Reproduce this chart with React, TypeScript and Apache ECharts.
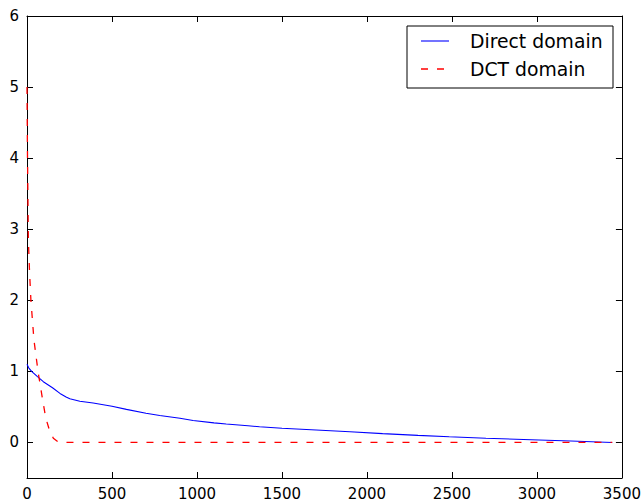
import React, { useEffect, useRef } from "react";
import * as echarts from "echarts";

const directX = [0, 10, 27, 60, 96, 150, 194, 230, 252, 311, 389, 500, 585, 700, 781, 900, 977, 1100, 1172, 1300, 1368, 1500, 1701, 1900, 2092, 2300, 2484, 2700, 3012, 3200, 3443];
const directY = [1.1, 1.05, 1.0, 0.93, 0.855, 0.77, 0.69, 0.64, 0.615, 0.58, 0.555, 0.51, 0.465, 0.41, 0.38, 0.34, 0.31, 0.275, 0.26, 0.235, 0.22, 0.2, 0.176, 0.15, 0.125, 0.1, 0.08, 0.06, 0.035, 0.02, 0.0];
const dctX = [0, 3, 8, 15, 23, 41, 66, 92, 110, 131, 155, 182, 250, 3443];
const dctY = [5.0, 4.0, 2.85, 2.4, 2.0, 1.44, 0.98, 0.6, 0.35, 0.18, 0.06, 0.01, 0.0, 0.0];
const yTicks = [0, 1, 2, 3, 4, 5, 6];
const seriesNames = ["Direct domain", "DCT domain"];

const FONT = "DejaVu Sans";

export default function App() {
  const ref = useRef<HTMLDivElement>(null);
  useEffect(() => {
    const chart = echarts.init(ref.current!, null, { renderer: "svg" });
    const axisLine = { show: true, onZero: false, lineStyle: { color: "#000", width: 1 } };
    const tick = { show: true, inside: true, length: 6, lineStyle: { color: "#000", width: 1 } };
    const label = { color: "#000", fontSize: 15, fontFamily: FONT, margin: 8, formatter: (v: number) => String(v) };
    chart.setOption({
      animation: false,
      backgroundColor: "#fff",
      grid: { left: 27, right: 21, top: 16, bottom: 24 },
      xAxis: [
        { type: "value", min: 0, max: 3500, interval: 500, position: "bottom", axisLine, axisTick: tick, axisLabel: label, splitLine: { show: false } },
        { type: "value", min: 0, max: 3500, interval: 500, position: "top", axisLine, axisTick: tick, axisLabel: { show: false }, splitLine: { show: false } },
      ],
      yAxis: [
        { type: "value", min: -0.5, max: 6, position: "left", axisLine, axisTick: { ...tick, customValues: yTicks }, axisLabel: { ...label, customValues: yTicks }, splitLine: { show: false } },
        { type: "value", min: -0.5, max: 6, position: "right", axisLine, axisTick: { ...tick, customValues: yTicks }, axisLabel: { show: false, customValues: yTicks }, splitLine: { show: false } },
      ],
      series: [
        {
          name: seriesNames[0],
          type: "line",
          symbol: "none",
          data: directX.map((x, i) => [x, directY[i]]),
          lineStyle: { color: "#0000ff", width: 1.1 },
          z: 2,
        },
        {
          name: seriesNames[1],
          type: "line",
          symbol: "none",
          data: dctX.map((x, i) => [x, dctY[i]]),
          lineStyle: { color: "#ff0000", width: 1.3, type: [7, 9] },
          z: 3,
        },
      ],
      graphic: [
        { type: "rect", shape: { x: 407, y: 26, width: 206, height: 62 }, style: { fill: "#fff", stroke: "#000", lineWidth: 1 }, z: 10 },
        { type: "line", shape: { x1: 421, y1: 41, x2: 449, y2: 41 }, style: { stroke: "#0000ff", lineWidth: 1.1 }, z: 11 },
        { type: "line", shape: { x1: 421, y1: 69, x2: 449, y2: 69 }, style: { stroke: "#ff0000", lineWidth: 1.3, lineDash: [7, 9] }, z: 11 },
        { type: "text", x: 470, y: 41, style: { text: seriesNames[0], fontSize: 18.8, fontFamily: FONT, fill: "#000", verticalAlign: "middle", align: "left" }, z: 11 },
        { type: "text", x: 470, y: 69, style: { text: seriesNames[1], fontSize: 18.8, fontFamily: FONT, fill: "#000", verticalAlign: "middle", align: "left" }, z: 11 },
      ],
    });
    return () => chart.dispose();
  }, []);
  return <div ref={ref} style={{ position: "fixed", left: 0, top: 0, width: 644, height: 502 }} />;
}
